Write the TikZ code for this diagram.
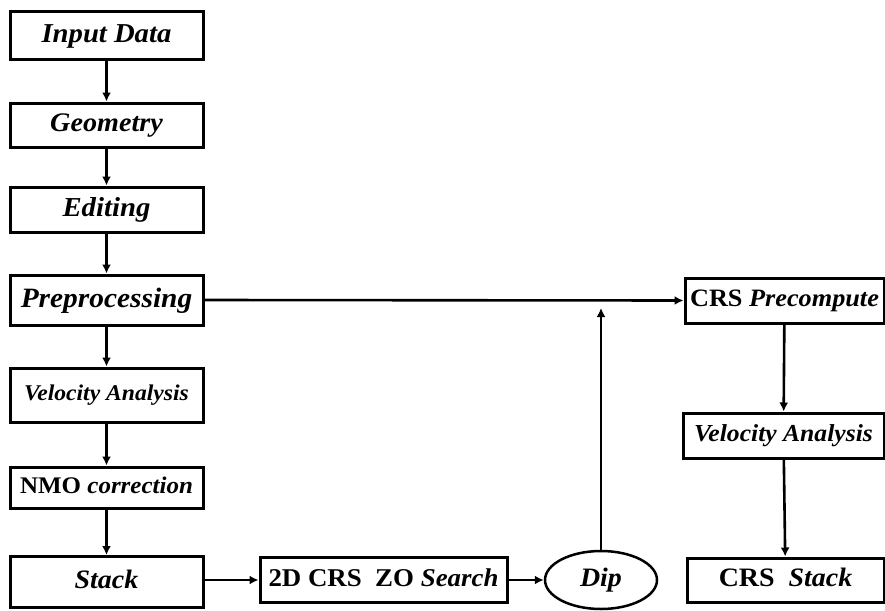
\documentclass[tikz,border=0pt]{standalone}
\usepackage{fontspec}
\setmainfont{Liberation Serif}[FakeStretch=1.05]
\usetikzlibrary{arrows.meta,shapes.geometric}

\newcommand{\fsz}[1]{\fontsize{#1}{#1}\selectfont}
\tikzset{
  box/.style={draw, line width=3pt, rectangle, inner sep=0pt, anchor=center,
              font=\bfseries\itshape\fsz{#1},
              text height={0.66*#1pt-4pt}, text depth=0pt},
  oval/.style={box=#1, ellipse, line width=2.5pt},
  arr/.style={line width=2.6pt, -{Latex[length=9pt,width=9pt]}},
}

\begin{document}
\begin{tikzpicture}[x=1pt,y=-1pt]
\useasboundingbox (0,0) rectangle (885,610);

% main processing column
\node[box=27.3, minimum width=193pt, minimum height=48pt] (input) at (106.5,35.5) {Input Data};
\node[box=26.8, minimum width=193pt, minimum height=44pt] (geom)  at (106.5,125)  {Geometry};
\node[box=27.4, minimum width=193pt, minimum height=45pt] (edit)  at (106.5,209.5) {Editing};
\node[box=28,   minimum width=193pt, minimum height=50pt] (prep)  at (106.5,300)  {Preprocessing};
\node[box=22.5, minimum width=193pt, minimum height=54pt] (velL)  at (106.5,395)  {Velocity Analysis};
\node[box=23.8, minimum width=193pt, minimum height=41pt] (nmo)   at (106.5,487.5) {\textup{NMO} correction};
\node[box=26.6, minimum width=193pt, minimum height=51pt] (stack) at (106.5,582)  {Stack};

% CRS branch
\node[box=25.6, minimum width=247pt, minimum height=45pt] (search) at (383.5,580) {\textup{2D CRS\ \ ZO} Search};
\node[oval=26.6, minimum width=112pt, minimum height=58pt] (dip) at (601,580) {Dip};
\coordinate (dipup) at (601,308);

\node[box=25,   minimum width=199pt, minimum height=45pt] (pre)   at (784.5,300.5) {\textup{CRS} Precompute};
\node[box=24.4, minimum width=201pt, minimum height=45pt] (velR)  at (783.5,435.5) {Velocity Analysis};
\node[box=26.6, minimum width=197pt, minimum height=44pt] (crsst) at (785.5,580)   {\textup{CRS\ \ }Stack};

% connectors
\draw[arr] (input) -- (geom);
\draw[arr] (geom) -- (edit);
\draw[arr] (edit) -- (prep);
\draw[arr] (prep) -- (velL);
\draw[arr] (velL) -- (nmo);
\draw[arr] (nmo) -- (stack);
\draw[arr] (prep.east) -- (pre.west);
\draw[arr] (stack.east |- search.west) -- (search.west);
\draw[arr] (search.east) -- (dip.west);
\draw[arr] (dip.north) -- (dipup);
\draw[arr] (pre) -- (velR);
\draw[arr] (velR) -- (crsst);
\end{tikzpicture}
\end{document}
